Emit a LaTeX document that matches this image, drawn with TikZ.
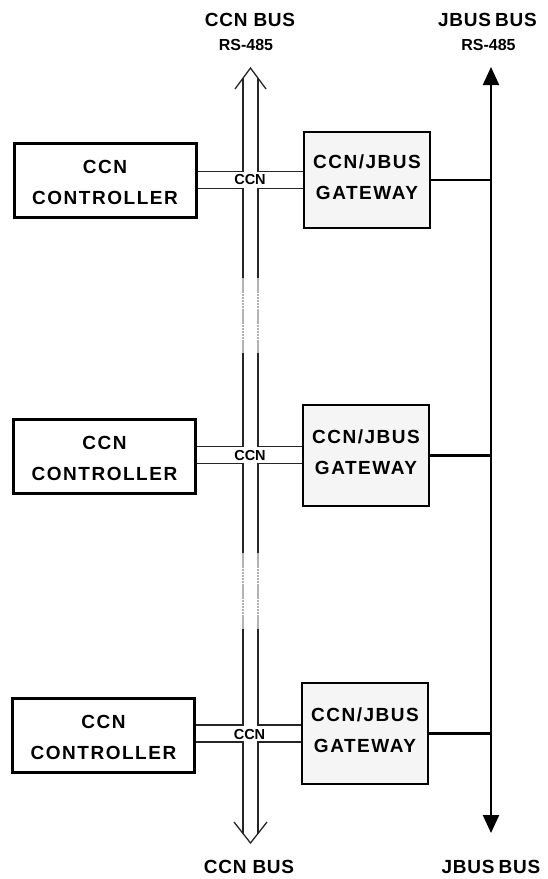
\documentclass[tikz,border=0pt]{standalone}
\usepackage{fontspec}
\setmainfont{Liberation Sans}
\newfontfamily\bigsp[LetterSpace=8]{Liberation Sans}
\newfontfamily\midsp[LetterSpace=4]{Liberation Sans}
\usetikzlibrary{arrows.meta}
\tikzset{
  ctrlbox/.style={draw, line width=3pt, fill=white, minimum width=182pt, minimum height=74pt, inner sep=0pt},
  gwbox/.style={draw, line width=2.3pt, fill=black!4, minimum width=126pt, minimum height=98pt, inner sep=0pt},
  boxtext/.style={align=center, inner sep=0pt, font=\bigsp\bfseries\fontsize{19}{31}\selectfont},
  buslbl/.style={inner sep=0pt, font=\midsp\bfseries\fontsize{19}{22}\selectfont},
  rslbl/.style={inner sep=0pt, font=\bfseries\fontsize{16}{19}\selectfont},
  xlbl/.style={inner sep=0pt, font=\bfseries\fontsize{14.5}{17}\selectfont},
  busline/.style={line width=1.3pt, black!85, line join=miter},
  grayseg/.style={line width=1.4pt, black!30, dash pattern=on 2.5pt off 0.6pt},
  jbus/.style={line width=2.2pt, black},
}
\begin{document}
\begin{tikzpicture}[x=1pt,y=-1pt]
\useasboundingbox (0,0) rectangle (547,879);

% boxes
\node[ctrlbox] (c1) at (105,180) {};
\node[ctrlbox] (c2) at (104.5,456.5) {};
\node[ctrlbox] (c3) at (103.5,735) {};
\node[boxtext] (c1t) at ([yshift=-2.5pt]c1.center) {CCN\\CONTROLLER};
\node[boxtext] (c2t) at ([yshift=-2pt]c2.center) {CCN\\CONTROLLER};
\node[boxtext] (c3t) at ([yshift=-2pt]c3.center) {CCN\\CONTROLLER};

\node[gwbox, minimum height=96pt] (g1) at (367,180) {};
\node[gwbox, minimum height=101pt] (g2) at (366,455.5) {};
\node[gwbox, minimum height=101pt] (g3) at (365,733.5) {};
\node[boxtext] (g1t) at ([yshift=3pt]g1.center) {CCN/JBUS\\GATEWAY};
\node[boxtext] (g2t) at ([yshift=3pt]g2.center) {CCN/JBUS\\GATEWAY};
\node[boxtext] (g3t) at ([yshift=3pt]g3.center) {CCN/JBUS\\GATEWAY};

% CCN bus coordinates
\coordinate (tip1) at (250.5,68);
\coordinate (wl1) at (235,89);
\coordinate (wr1) at (266,89);
\coordinate (tL) at (243,78.2);
\coordinate (tR) at (258,78.2);
\coordinate (tip2) at (250.5,843);
\coordinate (wl2) at (234,822);
\coordinate (wr2) at (267,822);
\coordinate (bL) at (243,833.5);
\coordinate (bR) at (258,833.5);

\coordinate (UL1) at (243,171.5); \coordinate (UR1) at (258,171.5);
\coordinate (LL1) at (243,188.5); \coordinate (LR1) at (258,188.5);
\coordinate (UL2) at (243,446.5); \coordinate (UR2) at (258,446.5);
\coordinate (LL2) at (243,463.5); \coordinate (LR2) at (258,463.5);
\coordinate (UL3) at (243,725);   \coordinate (UR3) at (258,725);
\coordinate (LL3) at (243,742);   \coordinate (LR3) at (258,742);

\coordinate (gaL) at (243,278); \coordinate (gaR) at (258,278);
\coordinate (gbL) at (243,353); \coordinate (gbR) at (258,353);
\coordinate (gcL) at (243,553); \coordinate (gcR) at (258,553);
\coordinate (gdL) at (243,629); \coordinate (gdR) at (258,629);

% arrowheads (open)
\draw[busline] (wl1) -- (tip1) -- (wr1);
\draw[busline] (wl2) -- (tip2) -- (wr2);

% row 1 crossing
\draw[busline] (tL) -- (UL1) -- (c1.east |- UL1);
\draw[busline] (tR) -- (UR1) -- (g1.west |- UR1);
\draw[busline] (c1.east |- LL1) -- (LL1) -- (gaL);
\draw[busline] (g1.west |- LR1) -- (LR1) -- (gaR);
\draw[grayseg] (gaL) -- (gbL);
\draw[grayseg] (gaR) -- (gbR);
% row 2 crossing
\draw[busline] (gbL) -- (UL2) -- (c2.east |- UL2);
\draw[busline] (gbR) -- (UR2) -- (g2.west |- UR2);
\draw[busline] (c2.east |- LL2) -- (LL2) -- (gcL);
\draw[busline] (g2.west |- LR2) -- (LR2) -- (gcR);
\draw[grayseg] (gcL) -- (gdL);
\draw[grayseg] (gcR) -- (gdR);
% row 3 crossing
\draw[busline] (gdL) -- (UL3) -- (c3.east |- UL3);
\draw[busline] (gdR) -- (UR3) -- (g3.west |- UR3);
\draw[busline] (c3.east |- LL3) -- (LL3) -- (bL);
\draw[busline] (g3.west |- LR3) -- (LR3) -- (bR);

\node[xlbl] (x1) at (250,180) {CCN};
\node[xlbl] (x2) at (250,456) {CCN};
\node[xlbl] (x3) at (249.5,734) {CCN};

% JBUS bus
\coordinate (jtop) at (491,67);
\coordinate (jbot) at (491,833);
\draw[jbus, {Triangle[length=18pt,width=16pt]}-{Triangle[length=18pt,width=16pt]}] (jbot) -- (jtop);
\draw[jbus] (g1.east) -- (g1.east -| jtop);
\draw[jbus] (g2.east) -- (g2.east -| jtop);
\draw[jbus] (g3.east) -- (g3.east -| jtop);

% labels
\node[buslbl] (l1) at (250,20) {CCN BUS};
\node[rslbl] (l2) at (246,45) {RS-485};
\node[buslbl] (l3) at (487.5,20) {JBUS\hspace{-2pt} BUS};
\node[rslbl] (l4) at (488.5,45) {RS-485};
\node[buslbl] (l5) at (249,867) {CCN BUS};
\node[buslbl] (l6) at (491,867) {JBUS\hspace{-2pt} BUS};
\end{tikzpicture}
\end{document}
